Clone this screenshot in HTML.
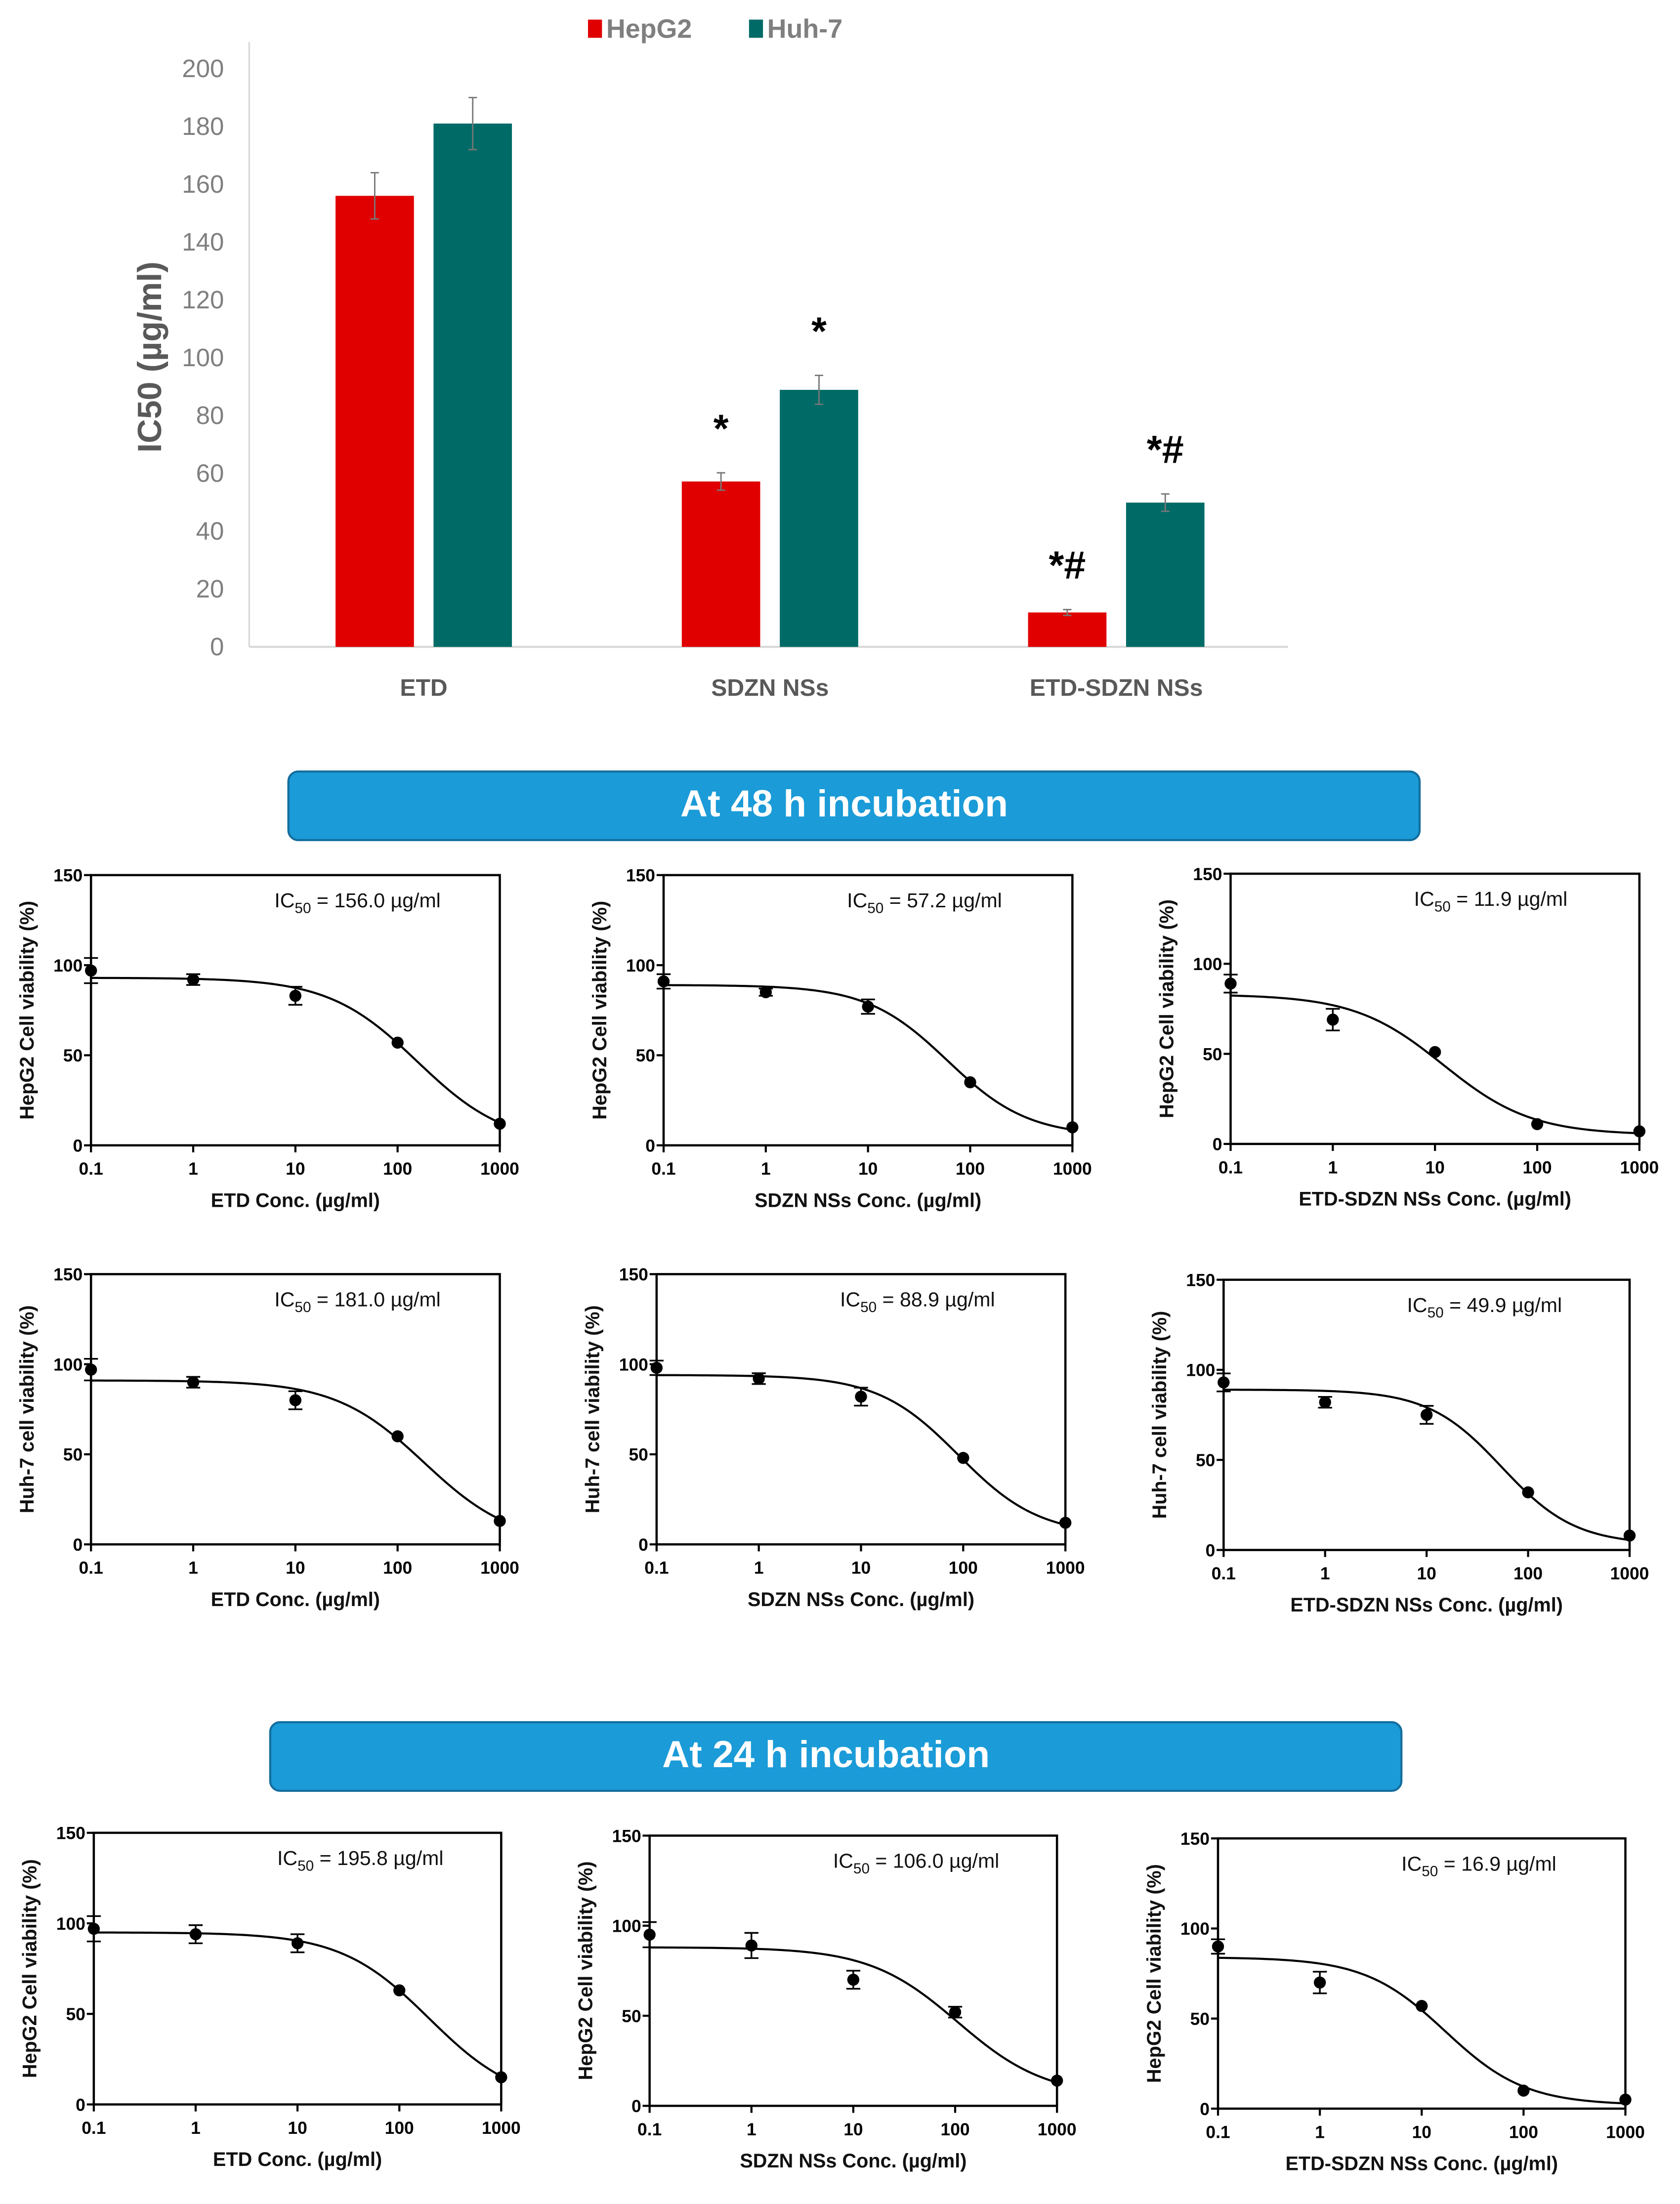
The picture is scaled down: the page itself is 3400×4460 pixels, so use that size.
<!DOCTYPE html>
<html><head><meta charset="utf-8">
<style>
html,body{margin:0;padding:0;background:#fff;}
svg{display:block;}
text{font-family:"Liberation Sans",Arial,sans-serif;}
</style></head>
<body>
<svg id="root" xmlns="http://www.w3.org/2000/svg" width="3400" height="4460" viewBox="0 0 1200 1574.1">
<rect x="0" y="0" width="1200" height="1574.1" fill="#fff"/>
<g id="bar"></g>
<g>
<rect x="206" y="551" width="808" height="49" rx="7" fill="#1b9bd7" stroke="#146e9e" stroke-width="1.5"/>
<text x="603" y="576" text-anchor="middle" fill="#fff" font-size="27" font-weight="bold" dominant-baseline="middle">At 48 h incubation</text>
</g>
<g>
<rect x="193" y="1230" width="808" height="49" rx="7" fill="#1b9bd7" stroke="#146e9e" stroke-width="1.5"/>
<text x="590" y="1255" text-anchor="middle" fill="#fff" font-size="27" font-weight="bold" dominant-baseline="middle">At 24 h incubation</text>
</g>
<g id="curves"></g>
</svg>
<script>
// ---------- IC50 bar chart data ----------
const barCategories = ["ETD", "SDZN NSs", "ETD-SDZN NSs"];
const hepg2Values = [156.0, 57.2, 11.9];
const huh7Values = [181.0, 88.9, 49.9];
const hepg2Errors = [8, 3, 1];
const huh7Errors = [9, 5, 3];
const hepg2Marks = ["", "*", "*#"];
const huh7Marks = ["", "*", "*#"];
const barTicks = [0, 20, 40, 60, 80, 100, 120, 140, 160, 180, 200];

// ---------- dose-response data ----------
const concentrations = [0.1, 1, 10, 100, 1000];
const xTickLabels = ["0.1", "1", "10", "100", "1000"];
const yTickValues = [0, 50, 100, 150];
const panelIC50Labels = ["156.0","57.2","11.9","181.0","88.9","49.9","195.8","106.0","16.9"];
const panelYTitles = ["HepG2 Cell viability (%)","HepG2 Cell viability (%)","HepG2 Cell viability (%)","Huh-7 cell viability (%)","Huh-7 cell viability (%)","Huh-7 cell viability (%)","HepG2 Cell viability (%)","HepG2 Cell viability (%)","HepG2 Cell viability (%)"];
const panelXTitles = ["ETD Conc. (µg/ml)","SDZN NSs Conc. (µg/ml)","ETD-SDZN NSs Conc. (µg/ml)","ETD Conc. (µg/ml)","SDZN NSs Conc. (µg/ml)","ETD-SDZN NSs Conc. (µg/ml)","ETD Conc. (µg/ml)","SDZN NSs Conc. (µg/ml)","ETD-SDZN NSs Conc. (µg/ml)"];
const viabilityMeans = [
  [97, 92, 83, 57, 12],
  [91, 85, 77, 35, 10],
  [89, 69, 51, 11, 7],
  [97, 90, 80, 60, 13],
  [98, 92, 82, 48, 12],
  [93, 82, 75, 32, 8],
  [97, 94, 89, 63, 15],
  [95, 89, 70, 52, 14],
  [90, 70, 57, 10, 5]
];
const viabilityErrors = [
  [7, 3, 5, 1, 1],
  [4, 2, 4, 1, 1],
  [5, 6, 1, 1, 1],
  [6, 3, 5, 1, 1],
  [4, 3, 5, 1, 1],
  [5, 3, 5, 1, 1],
  [7, 5, 5, 1, 1],
  [7, 7, 5, 3, 1],
  [4, 6, 1, 1, 1]
];
const fitTop = [93, 89, 83, 91, 94, 89, 95, 88, 84];
const fitBottom = [0, 5, 5, 0, 5, 3, 0, 5, 2];
const fitEC50 = [156, 60, 12, 181, 90, 55, 196, 106, 17];
const fitHill = [1, 1.1, 1, 1, 1.1, 1.2, 1, 1, 1.1];

const NS = "http://www.w3.org/2000/svg";
function mk(parent, tag, attrs, txt){
  const e = document.createElementNS(NS, tag);
  for (const k in attrs) e.setAttribute(k, attrs[k]);
  if (txt !== undefined) e.textContent = txt;
  parent.appendChild(e);
  return e;
}

// ---------- draw bar chart ----------
(function(){
  const g = document.getElementById('bar');
  const x0 = 178, x1 = 920, yB = 462, yT = 49;
  const ys = v => yB - (v / 200) * (yB - yT);
  let e = mk(g, 'line', {x1:x0, y1:30, x2:x0, y2:yB, stroke:'#d9d9d9', 'stroke-width':1.2});
   
  e = mk(g, 'line', {x1:x0, y1:yB, x2:x1, y2:yB, stroke:'#d9d9d9', 'stroke-width':1.5});
   
  barTicks.forEach(t => {
    const tl = mk(g, 'text', {x:160, y:ys(t)+6, 'text-anchor':'end', 'font-size':18, fill:'#7f7f7f', 'font-family':'"Liberation Sans Narrow","Liberation Sans",sans-serif'}, String(t));
     
  });
  const yt = mk(g, 'text', {x:0, y:0, transform:'translate(115,255) rotate(-90)', 'text-anchor':'middle', 'font-size':24, 'font-weight':'bold', fill:'#595959'}, 'IC50 (µg/ml)');
   
  const groupW = (x1 - x0) / 3;
  const bw = 56;
  barCategories.forEach((c, i) => {
    const cx = x0 + groupW * (i + 0.5) + 1;
    const cl = mk(g, 'text', {x:cx, y:497, 'text-anchor':'middle', 'font-size':17, 'font-weight':'bold', fill:'#595959'}, c);
     
    [[hepg2Values, hepg2Errors, hepg2Marks, '#e00000', cx - 35], [huh7Values, huh7Errors, huh7Marks, '#006b66', cx + 35]].forEach((s, k) => {
      const v = s[0][i], er = s[1][i], bx = s[4];
      const r = mk(g, 'rect', {x:bx - bw/2, y:ys(v), width:bw, height:yB - ys(v), fill:s[3]});
       
      const eb = mk(g, 'path', {d:`M${bx},${ys(v+er)}V${ys(v-er)}M${bx-3},${ys(v+er)}H${bx+3}M${bx-3},${ys(v-er)}H${bx+3}`, stroke:'#777', 'stroke-width':1, fill:'none'});
       
      if (s[2][i]) {
        const m = mk(g, 'text', {x:bx, y:ys(v+er) - 22, 'text-anchor':'middle', 'font-size':28, 'font-weight':'bold', fill:'#000'}, s[2][i]);
         
      }
    });
  });
  const lg = mk(g, 'g', {});
   
  mk(lg, 'rect', {x:420, y:14, width:10, height:13, fill:'#e00000'});
  mk(lg, 'text', {x:433, y:27, 'font-size':19, 'font-weight':'bold', fill:'#7f7f7f'}, 'HepG2');
  mk(lg, 'rect', {x:535, y:14, width:10, height:13, fill:'#006b66'});
  mk(lg, 'text', {x:548, y:27, 'font-size':19, 'font-weight':'bold', fill:'#7f7f7f'}, 'Huh-7');
})();

// ---------- draw dose-response panels ----------
(function(){
  const root = document.getElementById('curves');
  const boxes = [
    [65,625,357,818],[474,625,766,818],[879,624,1171,817],
    [65,910,357,1103],[469,910,761,1103],[874,914,1164,1107],
    [67,1309,358,1503],[464,1311,755,1504],[870,1313,1161,1506]
  ];
  boxes.forEach((b, p) => {
    const [L, T, R, B] = b;
    const g = mk(root, 'g', {});
     
    const xs = c => L + (Math.log10(c) + 1) / 4 * (R - L);
    const ys = v => B - v / 150 * (B - T);
    const fr = mk(g, 'rect', {x:L, y:T, width:R-L, height:B-T, fill:'none', stroke:'#000', 'stroke-width':1.6});
     
    yTickValues.forEach(t => {
      mk(g, 'line', {x1:L-5, y1:ys(t), x2:L, y2:ys(t), stroke:'#000', 'stroke-width':1.5});
      const tl = mk(g, 'text', {x:L-6, y:ys(t)+4.5, 'text-anchor':'end', 'font-size':12.5, 'font-weight':'bold'}, String(t));
       
    });
    concentrations.forEach((c, i) => {
      mk(g, 'line', {x1:xs(c), y1:B, x2:xs(c), y2:B+5, stroke:'#000', 'stroke-width':1.5});
      const tl = mk(g, 'text', {x:xs(c), y:B+21, 'text-anchor':'middle', 'font-size':12.5, 'font-weight':'bold'}, xTickLabels[i]);
       
    });
    const xt = mk(g, 'text', {x:(L+R)/2, y:B+44, 'text-anchor':'middle', 'font-size':14, 'font-weight':'bold', fill:'#111'}, panelXTitles[p]);
     
    const yt = mk(g, 'text', {x:0, y:0, transform:`translate(${L-41},${(T+B)/2}) rotate(-90)`, 'text-anchor':'middle', 'font-size':14, 'font-weight':'bold', fill:'#111'}, panelYTitles[p]);
     
    const ic = mk(g, 'text', {x:L+131, y:T+23, 'font-size':14.5, fill:'#111'});
     
    mk(ic, 'tspan', {}, 'IC');
    mk(ic, 'tspan', {dy:4, 'font-size':10.5}, '50');
    mk(ic, 'tspan', {dy:-4}, ' = ' + panelIC50Labels[p] + ' µg/ml');
    let d = '';
    for (let k = 0; k <= 120; k++) {
      const lc = -1 + 4 * k / 120, c = Math.pow(10, lc);
      const v = fitBottom[p] + (fitTop[p] - fitBottom[p]) / (1 + Math.pow(c / fitEC50[p], fitHill[p]));
      d += (k ? 'L' : 'M') + xs(c).toFixed(2) + ',' + ys(v).toFixed(2);
    }
    const cv = mk(g, 'path', {d:d, fill:'none', stroke:'#000', 'stroke-width':1.5});
     
    concentrations.forEach((c, i) => {
      const v = viabilityMeans[p][i], er = viabilityErrors[p][i], x = xs(c);
      if (er > 1.5) {
        const eb = mk(g, 'path', {d:`M${x},${ys(v+er)}V${ys(v-er)}M${x-5},${ys(v+er)}H${x+5}M${x-5},${ys(v-er)}H${x+5}`, stroke:'#000', 'stroke-width':1.2, fill:'none'});
         
      }
      const pt = mk(g, 'circle', {cx:x, cy:ys(v), r:4.3, fill:'#000'});
       
    });
  });
})();
</script>
</body></html>
